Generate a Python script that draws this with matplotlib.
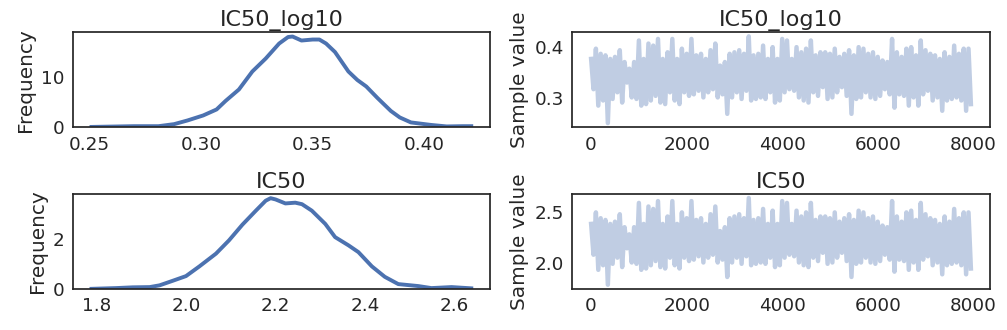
import numpy as np
import matplotlib
matplotlib.use('Agg')
import matplotlib.pyplot as plt

# Posterior densities
kde_log10_x = [0.251, 0.270, 0.281, 0.288, 0.294, 0.301, 0.307, 0.311, 0.317, 0.323,
               0.329, 0.335, 0.339, 0.341, 0.345, 0.350, 0.353, 0.356, 0.360, 0.366,
               0.370, 0.374, 0.379, 0.385, 0.389, 0.394, 0.403, 0.410, 0.417, 0.421]
kde_log10_y = [0.1, 0.25, 0.25, 0.66, 1.4, 2.4, 3.6, 5.3, 7.6, 11.2,
               13.8, 16.8, 18.1, 18.2, 17.4, 17.6, 17.6, 16.8, 15.1, 11.2,
               9.5, 8.2, 5.9, 3.3, 2.0, 1.0, 0.5, 0.2, 0.25, 0.25]

kde_ic50_x = [1.789, 1.844, 1.881, 1.919, 1.941, 1.970, 2.000, 2.030, 2.067, 2.096,
              2.126, 2.156, 2.178, 2.189, 2.200, 2.222, 2.244, 2.259, 2.281, 2.311,
              2.333, 2.363, 2.385, 2.415, 2.444, 2.474, 2.519, 2.548, 2.593, 2.637]
kde_ic50_y = [0.01, 0.04, 0.07, 0.08, 0.15, 0.33, 0.52, 0.91, 1.42, 1.95,
              2.58, 3.14, 3.54, 3.64, 3.59, 3.43, 3.46, 3.40, 3.14, 2.61,
              2.08, 1.75, 1.48, 0.91, 0.49, 0.20, 0.12, 0.04, 0.08, 0.03]

# Trace envelope, one high and one low reading per 100 samples
step = 50
trace_log10_high = [.377, .397, .387, .384, .377, .381, .394, .371, .358, .371,
                    .413, .377, .407, .403, .416, .377, .390, .416, .377, .397,
                    .387, .416, .384, .387, .377, .394, .407, .364, .371, .387,
                    .390, .394, .387, .421, .384, .387, .403, .377, .400, .377,
                    .416, .413, .377, .400, .390, .397, .413, .384, .390, .390,
                    .387, .397, .381, .387, .394, .384, .400, .397, .387, .390,
                    .381, .374, .371, .416, .390, .381, .397, .400, .384, .413,
                    .394, .387, .384, .377, .390, .381, .403, .387, .397, .397]
trace_log10_low = [.318, .286, .296, .252, .299, .312, .292, .331, .302, .299,
                   .286, .289, .296, .305, .292, .289, .312, .296, .289, .312,
                   .305, .308, .315, .302, .312, .318, .302, .308, .270, .302,
                   .312, .299, .315, .296, .299, .302, .299, .312, .292, .296,
                   .312, .318, .315, .302, .296, .292, .312, .305, .322, .299,
                   .302, .312, .322, .305, .270, .299, .302, .312, .302, .299,
                   .305, .318, .308, .282, .308, .305, .286, .302, .286, .308,
                   .315, .296, .302, .276, .296, .299, .302, .296, .276, .289]

trace_ic50_high = [2.382, 2.495, 2.438, 2.421, 2.382, 2.404, 2.477, 2.350, 2.280, 2.350,
                   2.588, 2.382, 2.553, 2.529, 2.606, 2.382, 2.455, 2.606, 2.382, 2.495,
                   2.438, 2.606, 2.421, 2.438, 2.382, 2.477, 2.553, 2.312, 2.350, 2.438,
                   2.455, 2.477, 2.438, 2.636, 2.421, 2.438, 2.529, 2.382, 2.512, 2.382,
                   2.606, 2.588, 2.382, 2.512, 2.455, 2.495, 2.588, 2.421, 2.455, 2.455,
                   2.438, 2.495, 2.404, 2.438, 2.477, 2.421, 2.512, 2.495, 2.438, 2.455,
                   2.404, 2.366, 2.350, 2.606, 2.455, 2.404, 2.495, 2.512, 2.421, 2.588,
                   2.477, 2.438, 2.421, 2.382, 2.455, 2.404, 2.529, 2.438, 2.495, 2.495]
trace_ic50_low = [2.080, 1.932, 1.977, 1.786, 1.991, 2.051, 1.959, 2.143, 2.004, 1.991,
                  1.932, 1.945, 1.977, 2.018, 1.959, 1.945, 2.051, 1.977, 1.945, 2.051,
                  2.018, 2.032, 2.065, 2.004, 2.051, 2.080, 2.004, 2.032, 1.862, 2.004,
                  2.051, 1.991, 2.065, 1.977, 1.991, 2.004, 1.991, 2.051, 1.959, 1.977,
                  2.051, 2.080, 2.065, 2.004, 1.977, 1.959, 2.051, 2.018, 2.099, 1.991,
                  2.004, 2.051, 2.099, 2.018, 1.862, 1.991, 2.004, 2.051, 2.004, 1.991,
                  2.018, 2.080, 2.032, 1.914, 2.032, 2.018, 1.932, 2.004, 1.932, 2.032,
                  2.065, 1.977, 2.004, 1.888, 1.977, 1.991, 2.004, 1.977, 1.888, 1.945]

titles = ['IC50_log10', 'IC50']

# seaborn "white"-like look
plt.rcParams.update({
    'font.family': 'DejaVu Sans',
    'text.color': '#262626',
    'axes.labelcolor': '#262626',
    'xtick.color': '#262626',
    'ytick.color': '#262626',
    'axes.edgecolor': '#262626',
    'axes.linewidth': 1.25,
    'xtick.major.size': 0,
    'ytick.major.size': 0,
    'xtick.major.pad': 6,
    'ytick.major.pad': 6,
    'axes.titlesize': 16,
    'axes.labelsize': 14.4,
    'xtick.labelsize': 13.2,
    'ytick.labelsize': 13.2,
})

blue = '#4c72b0'

fig, axes = plt.subplots(2, 2, figsize=(10.07, 3.30), dpi=100)
fig.subplots_adjust(left=0.072, right=0.983, top=0.903, bottom=0.124,
                    wspace=0.196, hspace=0.694)

kdes = [(kde_log10_x, kde_log10_y), (kde_ic50_x, kde_ic50_y)]
traces = [(trace_log10_high, trace_log10_low), (trace_ic50_high, trace_ic50_low)]

for i in range(2):
    ax = axes[i, 0]
    ax.plot(kdes[i][0], kdes[i][1], color=blue, lw=2.8, solid_joinstyle='round')
    ax.set_ylim(bottom=0)
    ax.set_title(titles[i], pad=4)
    ax.set_ylabel('Frequency')

    ax = axes[i, 1]
    vals = np.column_stack([traces[i][0], traces[i][1]]).ravel()
    ax.plot(np.arange(len(vals)) * step, vals, color=blue, alpha=0.35, lw=3.2)
    ax.set_title(titles[i], pad=4)
    ax.set_ylabel('Sample value')

axes[0, 1].set_yticks([0.3, 0.4])
axes[1, 1].set_yticks([2.0, 2.5])
axes[0, 1].set_xticks([0, 2000, 4000, 6000, 8000])
axes[1, 1].set_xticks([0, 2000, 4000, 6000, 8000])

plt.savefig('out.png', dpi=100)
